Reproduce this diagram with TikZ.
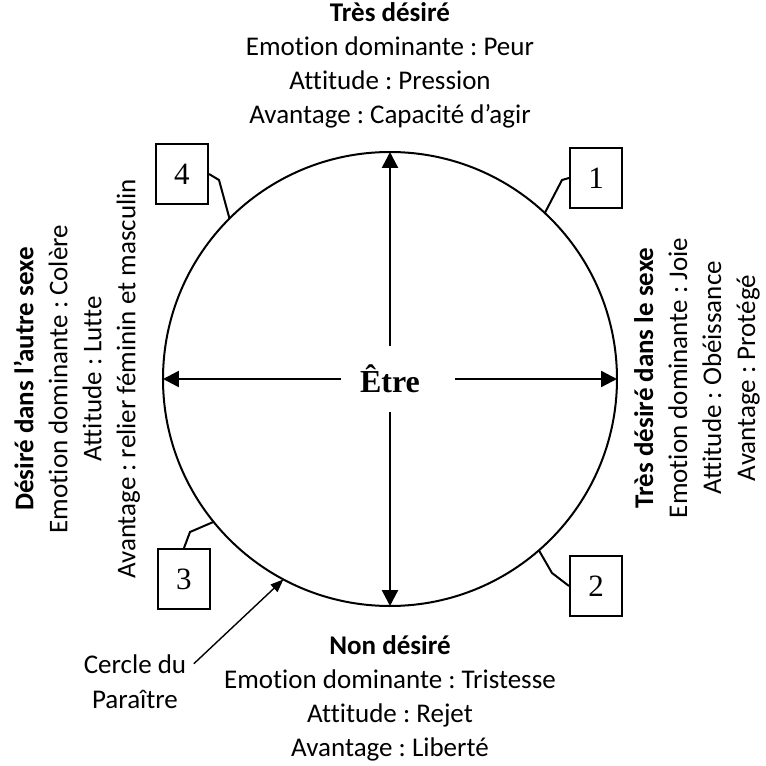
\documentclass[tikz,border=0pt]{standalone}
\usepackage{fontspec}
\setmainfont{Carlito}[Ligatures=NoCommon]
\newfontfamily\serifnum{Liberation Serif}
\frenchspacing
\usetikzlibrary{arrows.meta}
\usetikzlibrary{positioning}
\tikzstyle{bloc} = [align=center, inner sep=0pt, font=\fontsize{13.5}{17}\selectfont]
\tikzstyle{numero} = [rectangle, draw, line width=1pt, minimum width=26pt, minimum
height=30pt, inner sep=0pt, font=\serifnum\fontsize{15.5}{15.5}\selectfont]
\tikzstyle{fleche} = [line width=1.2pt, -{Triangle[length=8pt, width=8pt]}]

\begin{document}
\begin{tikzpicture}[x=0.5pt, y=0.5pt, line width=1pt]
  \useasboundingbox (-390,-387) rectangle (376,379);
  \tikzstyle{fine}=[line width=0.7pt, -{Triangle[length=6.5pt, width=5pt]}]

  \node (cercle) [circle, draw, outer sep=0pt, inner sep=0pt, minimum size=227pt] at (0,0) {};
  \node (etre) [inner sep=9pt, font=\serifnum\bfseries\fontsize{16}{16}\selectfont] at (cercle.center) {Être};

  \draw[fleche] (etre.north) -- (cercle.north);
  \draw[fleche] (etre.south) -- (cercle.south);
  \draw[fleche] (etre.west) -- (cercle.west);
  \draw[fleche] ([xshift=8pt]etre.east) -- (cercle.east);

  \node (n4) [numero] at (-208,205) {4};
  \node (n1) [numero] at (206,201) {1};
  \node (n3) [numero] at (-206,-200) {3};
  \node (n2) [numero] at (206,-207) {2};

  \draw (n4.east) -- ++(10,-6) -- (cercle.135);
  \draw (n1.west) -- ++(-7,-2) -- (cercle.47);
  \draw (n3.north) -- ++(6,16) -- (cercle.219);
  \draw (n2.west) -- ++(-17,13) -- (cercle.311);

  \node (haut) [bloc] at (0,314) {\textbf{Très désiré}\\Emotion dominante : Peur\\Attitude :
    Pression\\Avantage : Capacité d’agir};
  \node (bas) [bloc] at (0,-319) {\textbf{Non désiré}\\Emotion dominante : Tristesse\\Attitude :
    Rejet\\Avantage : Liberté};
  \node (gauche) [bloc, rotate=90] at (-313,0) {\textbf{Désiré dans l’autre sexe}\\Emotion
    dominante : Colère\\Attitude : Lutte\\Avantage : relier féminin et masculin};
  \node (droite) [bloc, rotate=90] at (307,1) {\textbf{Très désiré dans le sexe}\\Emotion
    dominante : Joie\\Attitude : Obéissance\\Avantage : Protégé};

  \node (cdu) [anchor=base, font=\fontsize{13.5}{17}\selectfont] at (-255,-294) {Cercle du};
  \node (paraitre) [below=1pt of cdu, font=\fontsize{13.5}{17}\selectfont] {Paraître};
  \draw[fine] (cdu.east) -- (cercle.242);
\end{tikzpicture}
\end{document}
